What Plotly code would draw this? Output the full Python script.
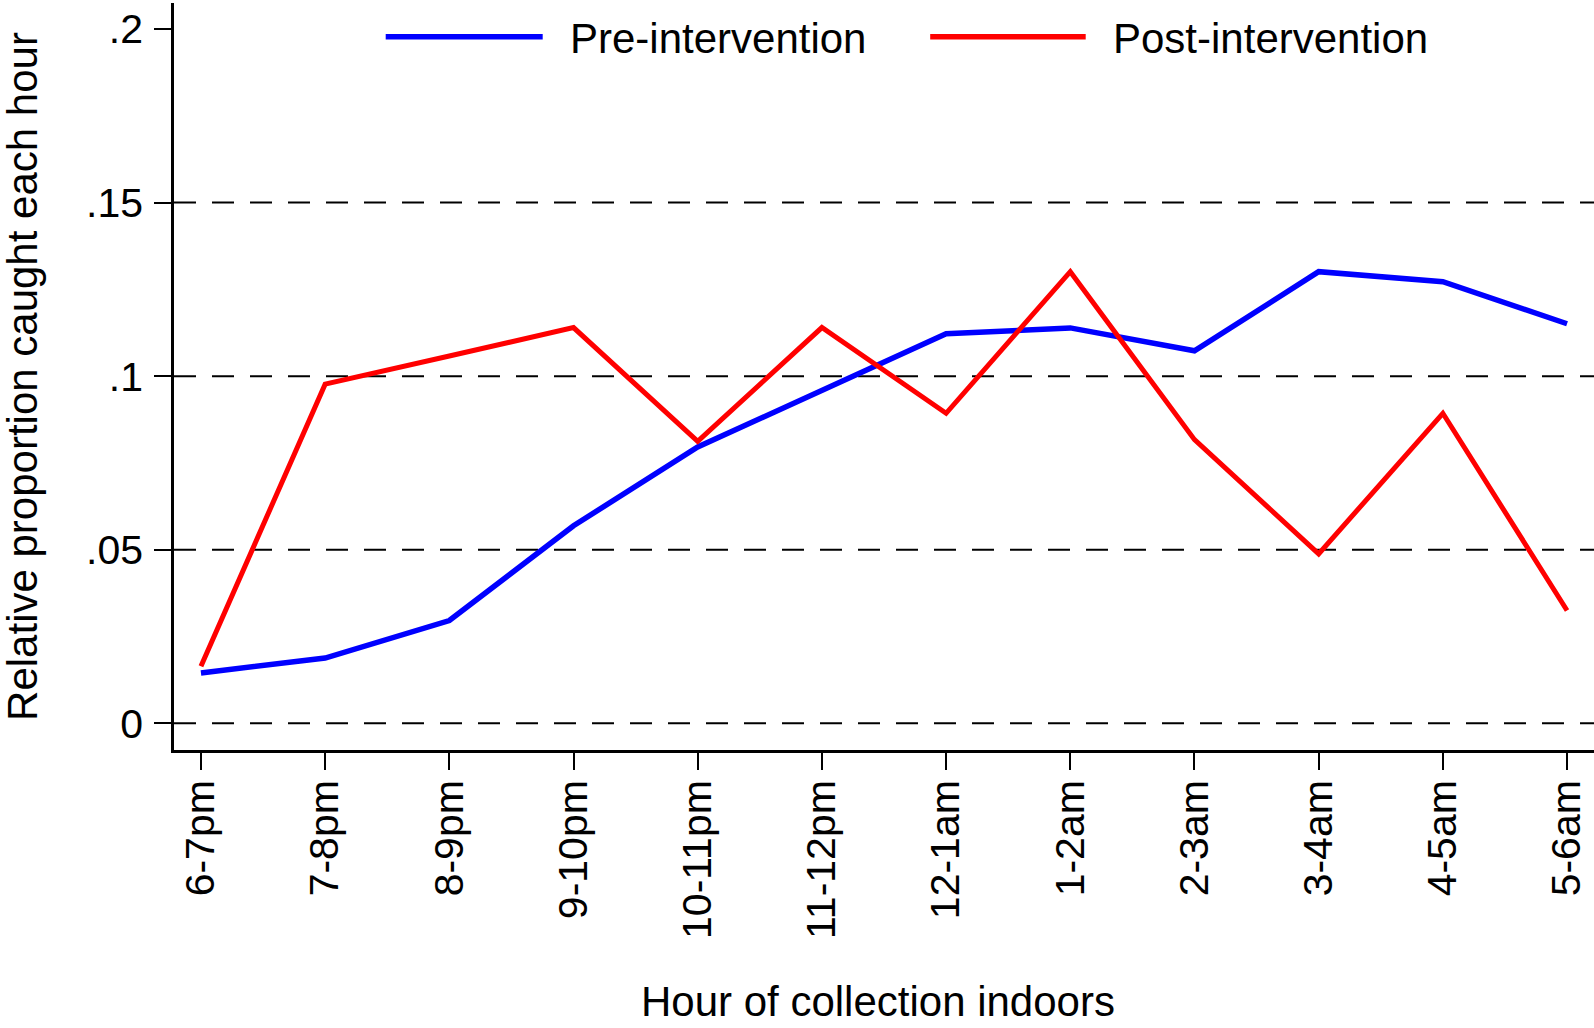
import plotly.graph_objects as go

# ---- data ----
hours = ["6-7pm", "7-8pm", "8-9pm", "9-10pm", "10-11pm", "11-12pm",
         "12-1am", "1-2am", "2-3am", "3-4am", "4-5am", "5-6am"]
pre_intervention = [0.0145, 0.0188, 0.0296, 0.0569, 0.0796, 0.0961,
                    0.1122, 0.1139, 0.1073, 0.1301, 0.1272, 0.1151]
post_intervention = [0.0164, 0.0977, 0.1058, 0.1140, 0.0812, 0.1140,
                     0.0893, 0.1301, 0.0817, 0.0488, 0.0893, 0.0325]
y_tick_vals = [0, 0.05, 0.1, 0.15, 0.2]
y_tick_text = ["0", ".05", ".1", ".15", ".2"]
grid_vals = [0, 0.05, 0.1, 0.15]

FONT = "Liberation Sans, Arial, Helvetica, sans-serif"
FS = 41
FS_T = 42
W, H = 1594, 1028
ML, MR, MT, MB = 174, 0, 3, 278
PW, PH = W - ML - MR, H - MT - MB

x_idx = list(range(len(hours)))

fig = go.Figure()
fig.add_trace(go.Scatter(x=x_idx, y=pre_intervention, mode="lines",
                         name="Pre-intervention",
                         line=dict(color="#0000FF", width=5.5),
                         showlegend=False))
fig.add_trace(go.Scatter(x=x_idx, y=post_intervention, mode="lines",
                         name="Post-intervention",
                         line=dict(color="#FF0000", width=5),
                         showlegend=False))

shapes = []
for g in grid_vals:
    shapes.append(dict(type="line", xref="paper", yref="y", x0=0, x1=1,
                       y0=g, y1=g, layer="below",
                       line=dict(color="black", width=2, dash="22px,16px")))

def px2paper_x(px):
    return (px - ML) / PW

def px2paper_y(py):
    return (H - MB - py) / PH

# legend (manual, long line samples as in the reference)
legend_items = [("Pre-intervention", "#0000FF", 385.7, 542.7, 568),
                ("Post-intervention", "#FF0000", 930.2, 1085.7, 1111)]
annotations = []
ly = px2paper_y(36.7)
for name, col, x0, x1, tx in legend_items:
    shapes.append(dict(type="line", xref="paper", yref="paper",
                       x0=px2paper_x(x0), x1=px2paper_x(x1), y0=ly, y1=ly,
                       line=dict(color=col, width=5.5)))
    annotations.append(dict(text=name, xref="paper", yref="paper",
                            x=px2paper_x(tx), y=px2paper_y(38),
                            xanchor="left", yanchor="middle", showarrow=False,
                            font=dict(family=FONT, size=FS_T, color="black")))

# axis titles
annotations.append(dict(text="Hour of collection indoors", xref="paper", yref="paper",
                        x=px2paper_x(878), y=px2paper_y(1001),
                        xanchor="center", yanchor="middle", showarrow=False,
                        font=dict(family=FONT, size=FS_T, color="black")))
annotations.append(dict(text="Relative proportion caught each hour", xref="paper", yref="paper",
                        x=px2paper_x(22.4), y=px2paper_y(376.5), textangle=-90,
                        xanchor="center", yanchor="middle", showarrow=False,
                        font=dict(family=FONT, size=FS_T, color="black")))

fig.update_layout(
    width=W, height=H,
    margin=dict(l=ML, r=MR, t=MT, b=MB, pad=0),
    paper_bgcolor="white", plot_bgcolor="white",
    font=dict(family=FONT, size=FS, color="black"),
    shapes=shapes, annotations=annotations,
    showlegend=False,
)
fig.update_xaxes(range=[-0.217, 11.217], tickvals=x_idx, ticktext=hours,
                 tickangle=-90, showgrid=False, zeroline=False,
                 showline=True, linecolor="black", linewidth=2.5,
                 ticks="outside", ticklen=17, tickwidth=2, tickcolor="black",
                 ticklabelstandoff=-6,
                 tickfont=dict(family=FONT, size=FS, color="black"))
fig.update_yaxes(range=[-0.0077, 0.2075], tickvals=y_tick_vals, ticktext=y_tick_text,
                 showgrid=False, zeroline=False,
                 showline=True, linecolor="black", linewidth=2.5,
                 ticks="outside", ticklen=17, tickwidth=2, tickcolor="black",
                 ticklabelstandoff=3,
                 tickfont=dict(family=FONT, size=FS, color="black"))

fig.write_html("out.html",
               config={"displayModeBar": False},
               post_script="document.body.style.margin='0';document.body.style.overflow='hidden';")
